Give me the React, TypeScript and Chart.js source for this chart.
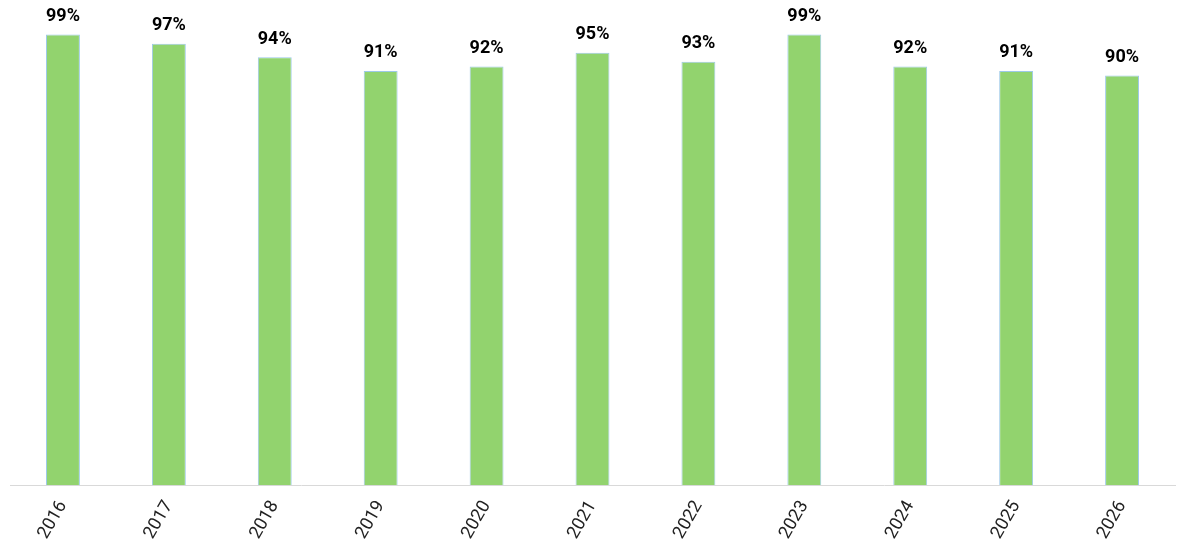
import React, { useEffect, useRef } from "react";
import { Chart, registerables } from "chart.js";

Chart.register(...registerables);

const years = ["2016", "2017", "2018", "2019", "2020", "2021", "2022", "2023", "2024", "2025", "2026"];
const values = [99, 97, 94, 91, 92, 95, 93, 99, 92, 91, 90];

const valueLabels = {
  id: "valueLabels",
  afterDatasetsDraw(chart: any) {
    const ctx = chart.ctx;
    const meta = chart.getDatasetMeta(0);
    ctx.save();
    ctx.font = "bold 18px Roboto";
    ctx.fillStyle = "#000";
    ctx.textAlign = "center";
    ctx.textBaseline = "bottom";
    meta.data.forEach((bar: any, i: number) => {
      ctx.fillText(values[i] + "%", bar.x, bar.y - 9);
    });
    ctx.restore();
  },
};

export default function App() {
  const ref = useRef<HTMLCanvasElement>(null);
  useEffect(() => {
    const chart = new Chart(ref.current!, {
      type: "bar",
      data: {
        labels: years,
        datasets: [
          {
            data: values,
            backgroundColor: "#92D36E",
            borderColor: "#9DC9E8",
            borderWidth: 1,
            categoryPercentage: 1,
            barPercentage: 0.32,
          },
        ],
      },
      options: {
        animation: false,
        responsive: true,
        maintainAspectRatio: false,
        layout: { padding: { left: 2, right: 7, top: 22, bottom: 0 } },
        plugins: { legend: { display: false }, tooltip: { enabled: false } },
        scales: {
          x: {
            grid: { display: false },
            border: { color: "#d9d9d9", width: 1 },
            ticks: {
              color: "#222",
              font: { family: "Roboto", size: 18 },
              minRotation: 60,
              maxRotation: 60,
              padding: 4,
            },
          },
          y: { display: false, min: 0, max: 100 },
        },
      },
      plugins: [valueLabels],
    });
    return () => chart.destroy();
  }, []);
  return (
    <div style={{ position: "relative", width: 1174, height: 539 }}>
      <canvas ref={ref} />
    </div>
  );
}
